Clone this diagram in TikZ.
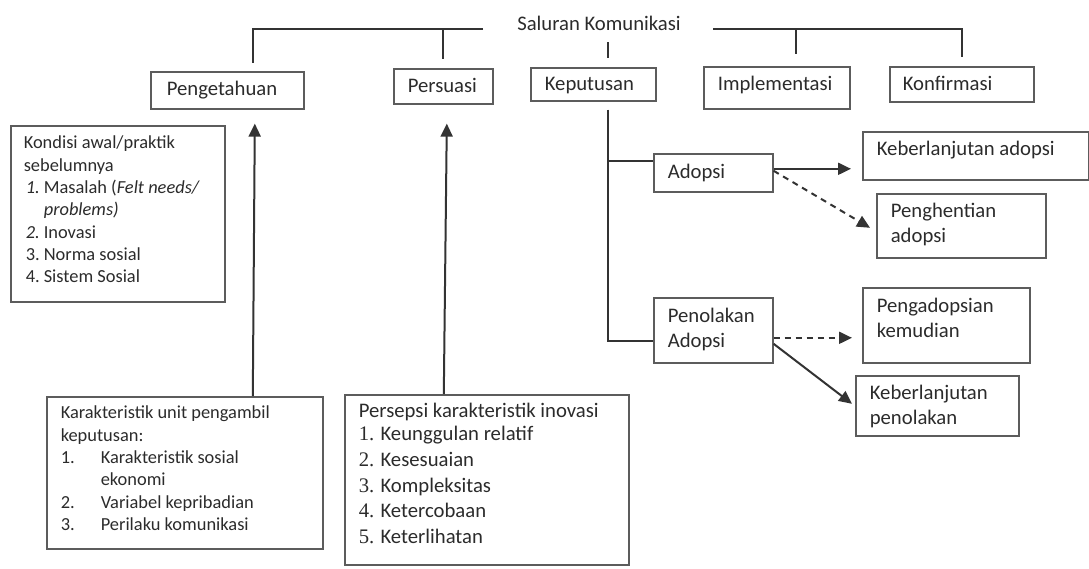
\documentclass[tikz,border=0pt]{standalone}
\usepackage{fontspec}
\setmainfont{Carlito}
\newfontfamily\numfont{Liberation Serif}
\usetikzlibrary{arrows.meta}
\definecolor{inkc}{HTML}{2B2B2B}
\definecolor{linec}{HTML}{333333}
\definecolor{framec}{HTML}{5C5C5C}
\newcommand\mainsz{\fontsize{20.7pt}{25pt}\selectfont}
\newcommand\smallsz{\fontsize{18.4pt}{22.3pt}\selectfont}
\newcommand\listsz{\fontsize{20.7pt}{25.6pt}\selectfont}
% text block of a box: width, height, first baseline below the top, body
\newcommand\boxbody[4]{%
  \begin{minipage}[t][#2][t]{#1}\raggedright
  \vspace*{\dimexpr#3-0.7\baselineskip\relax}\strut#4\par
  \end{minipage}}
\tikzset{
  x=1pt, y=-1pt,
  box/.style={draw=framec, line width=1.6pt, anchor=north west,
    inner ysep=0pt, text=inkc, font=\mainsz},
  conn/.style={draw=linec, line width=2pt},
  arr/.style={draw=linec, line width=2pt,
    -{Triangle[length=13pt,width=12pt]}},
  darr/.style={arr, dash pattern=on 6pt off 5pt},
}
\begin{document}
\begin{tikzpicture}
\useasboundingbox (0,0) rectangle (1089,568);

% title
\node[font=\mainsz, text=inkc, anchor=base, inner sep=0pt] (title) at (599,30) {Saluran Komunikasi};

% stages
\node[box, inner xsep=16pt] (peng) at (150,71) {\boxbody{121pt}{37pt}{24pt}{Pengetahuan}};
\node[box, inner xsep=14pt] (pers) at (393,68) {\boxbody{71pt}{35pt}{24pt}{Persuasi}};
\node[box, inner xsep=14pt] (kep) at (530,67) {\boxbody{97pt}{33pt}{23pt}{Keputusan}};
\node[box, inner xsep=14pt] (impl) at (703,66) {\boxbody{118pt}{42pt}{24pt}{Implementasi}};
\node[box, inner xsep=13pt] (konf) at (889,66) {\boxbody{118pt}{35pt}{24pt}{Konfirmasi}};

% decisions and outcomes
\node[box, inner xsep=14pt] (ado) at (653,153) {\boxbody{91pt}{38pt}{25pt}{Adopsi}};
\node[box, inner xsep=14pt] (kba) at (862,131) {\boxbody{198pt}{48pt}{24pt}{Keberlanjutan adopsi}};
\node[box, inner xsep=14pt] (ph) at (876,193) {\boxbody{141pt}{64pt}{24pt}{Penghentian\\adopsi}};
\node[box, inner xsep=14pt] (pen) at (653,297) {\boxbody{91pt}{65pt}{25pt}{Penolakan\\Adopsi}};
\node[box, inner xsep=14pt] (pa) at (862,287) {\boxbody{139pt}{75pt}{25pt}{Pengadopsian\\kemudian}};
\node[box, inner xsep=14pt] (kp) at (855,375) {\boxbody{135pt}{60pt}{24pt}{Keberlanjutan\\penolakan}};

% prior conditions
\node[box, inner xsep=13pt, font=\smallsz] (kon) at (10,125) {\boxbody{188pt}{176pt}{23pt}{%
  Kondisi awal/praktik\\
  sebelumnya\\
  \hspace*{2pt}\makebox[18pt][l]{\textit{1.}}Masalah (\textit{Felt needs/}\\
  \hspace*{20pt}\textit{problems)}\\
  \hspace*{2pt}\makebox[18pt][l]{\textit{2.}}Inovasi\\
  \hspace*{2pt}\makebox[18pt][l]{3.}Norma sosial\\
  \hspace*{2pt}\makebox[18pt][l]{4.}Sistem Sosial}};

% characteristics of the decision-making unit
\node[box, inner xsep=14pt, font=\smallsz] (kar) at (46,396) {\boxbody{248pt}{152pt}{22pt}{%
  Karakteristik unit pengambil\\
  keputusan:\\
  \makebox[40pt][l]{1.}Karakteristik sosial\\
  \hspace*{40pt}ekonomi\\
  \makebox[40pt][l]{2.}Variabel kepribadian\\
  \makebox[40pt][l]{3.}Perilaku komunikasi}};

% perceived characteristics of the innovation
\node[box, inner xsep=14pt, font=\listsz] (per) at (344,394) {\boxbody{256pt}{170pt}{23pt}{%
  Persepsi karakteristik inovasi\\[-2.5pt]
  {\numfont 1.} Keunggulan relatif\\
  {\numfont 2.} Kesesuaian\\
  {\numfont 3.} Kompleksitas\\
  {\numfont 4.} Ketercobaan\\
  {\numfont 5.} Keterlihatan}};

% communication channel bracket
\coordinate (brL) at (253,29);
\coordinate (brLe) at (483,29);
\coordinate (brR) at (713,29);
\coordinate (brI) at (796,29);
\coordinate (trk) at (608,341);
\coordinate (trA) at (608,161);
\draw[conn, shorten >=8pt] (brLe) -- (brL) -- (brL |- peng.north);
\draw[conn, shorten >=9pt] (pers.north |- brL) -- (pers.north);
\draw[conn, shorten >=9pt] (brR) -- (konf.north |- brR) -- (konf.north);
\draw[conn, shorten >=12pt] (brI) -- (brI |- impl.north);
\draw[conn, shorten <=12pt, shorten >=9pt] (title.base -| trk) -- (kep.north -| trk);

% decision trunk
\draw[conn, shorten <=8pt] (kep.south -| trk) -- (trk) -- (trk -| pen.west);
\draw[conn] (trA) -- (trA -| ado.west);

% outcomes
\draw[arr, shorten >=11pt] ([yshift=4pt]ado.east) -- ([yshift=4pt]ado.east -| kba.west);
\draw[darr] ([yshift=2pt]ado.east) -- ([xshift=-6pt,yshift=-2pt]ph.west);
\draw[darr, shorten >=10pt] ([yshift=-7.5pt]pen.east) -- ([yshift=-7.5pt]pen.east -| pa.west);
\draw[arr] ([yshift=-13.5pt]pen.east) -- ([xshift=-3pt,yshift=2pt]kp.west);

% influences
\draw[arr] ([xshift=68pt]kar.north) -- ([xshift=27.5pt,yshift=-14pt]peng.south);
\draw[arr] ([xshift=-43pt]per.north) -- ([xshift=3.5pt,yshift=-19pt]pers.south);
\end{tikzpicture}
\end{document}
